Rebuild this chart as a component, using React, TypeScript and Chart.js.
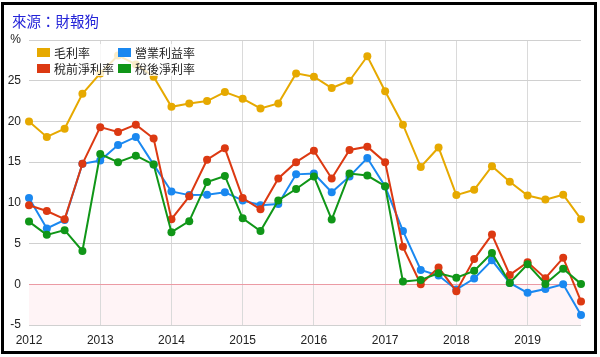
import React, { useEffect, useRef } from "react";
import Chart from "chart.js/auto";

const quarters = [
  "2012Q1", "2012Q2", "2012Q3", "2012Q4",
  "2013Q1", "2013Q2", "2013Q3", "2013Q4",
  "2014Q1", "2014Q2", "2014Q3", "2014Q4",
  "2015Q1", "2015Q2", "2015Q3", "2015Q4",
  "2016Q1", "2016Q2", "2016Q3", "2016Q4",
  "2017Q1", "2017Q2", "2017Q3", "2017Q4",
  "2018Q1", "2018Q2", "2018Q3", "2018Q4",
  "2019Q1", "2019Q2", "2019Q3", "2019Q4",
];

const grossMargin = [20.0, 18.1, 19.1, 23.4, 25.9, 28.1, 27.0, 25.5, 21.8, 22.2, 22.5, 23.6, 22.8, 21.6, 22.2, 25.9, 25.5, 24.1, 25.0, 28.0, 23.7, 19.6, 14.4, 16.8, 10.95, 11.6, 14.5, 12.6, 10.9, 10.4, 11.0, 8.0];
const operatingMargin = [10.6, 6.85, 7.9, 14.8, 15.2, 17.1, 18.1, 14.7, 11.4, 10.95, 11.0, 11.3, 10.3, 9.7, 9.85, 13.5, 13.6, 11.3, 13.25, 15.5, 12.0, 6.55, 1.75, 1.07, -0.65, 0.7, 2.95, 0.17, -1.05, -0.57, 0.0, -3.77];
const pretaxMargin = [9.7, 9.0, 8.0, 14.8, 19.3, 18.7, 19.6, 17.9, 8.0, 10.8, 15.3, 16.7, 10.6, 9.2, 13.0, 15.0, 16.4, 13.0, 16.5, 16.9, 15.0, 4.6, 0.0, 2.05, -0.85, 3.1, 6.1, 1.15, 2.7, 0.75, 3.25, -2.1];
const netMargin = [7.7, 6.07, 6.65, 4.1, 16.0, 15.0, 15.8, 14.7, 6.4, 7.75, 12.55, 13.3, 8.1, 6.55, 10.3, 11.7, 13.25, 7.95, 13.6, 13.35, 12.05, 0.33, 0.54, 1.35, 0.8, 1.65, 3.85, 0.17, 2.46, 0.05, 1.9, 0.05];

const seriesNames = ["毛利率", "營業利益率", "稅前淨利率", "稅後淨利率"];
const seriesColors = ["#e6a900", "#1a88f0", "#dc3912", "#109618"];

const yMin = -5;
const yMax = 30;
const yStep = 5;

const negativeZone = {
  id: "negativeZone",
  beforeDraw(chart: any) {
    const { ctx, chartArea, scales } = chart;
    const y0 = scales.y.getPixelForValue(0);
    ctx.save();
    ctx.fillStyle = "#fff4f6";
    ctx.fillRect(chartArea.left, y0, chartArea.right - chartArea.left, chartArea.bottom - y0);
    ctx.restore();
  },
};

export default function App() {
  const ref = useRef<HTMLCanvasElement | null>(null);

  useEffect(() => {
    if (!ref.current) return;
    const seriesData = [grossMargin, operatingMargin, pretaxMargin, netMargin];
    const chart = new Chart(ref.current, {
      type: "line",
      data: {
        labels: quarters,
        datasets: seriesData.map((d, i) => ({
          label: seriesNames[i],
          data: d,
          borderColor: seriesColors[i],
          backgroundColor: seriesColors[i],
          pointBackgroundColor: seriesColors[i],
          pointBorderWidth: 0,
          pointRadius: 4,
          borderWidth: 2,
          tension: 0,
          order: 3 - i,
        })),
      },
      options: {
        responsive: false,
        animation: false,
        layout: { padding: { left: 0, right: 19, top: 40, bottom: 0 } },
        plugins: {
          legend: { display: false },
          tooltip: { enabled: false },
        },
        scales: {
          x: {
            type: "category",
            offset: false,
            border: { display: false },
            grid: {
              drawTicks: false,
              color: (c: any) => {
                const lab = quarters[c.index];
                if (c.index === 0) return "rgba(0,0,0,0)";
                return lab && lab.endsWith("Q1") ? "#dadada" : "rgba(0,0,0,0)";
              },
            },
            ticks: {
              autoSkip: false,
              maxRotation: 0,
              padding: 8,
              color: "#222",
              font: { family: "'Liberation Sans', Arial", size: 12 },
              callback: (_v: any, i: number) => (quarters[i].endsWith("Q1") ? quarters[i].slice(0, 4) : ""),
            },
            afterFit: (s: any) => {
              s.height = 32;
            },
          },
          y: {
            min: yMin,
            max: yMax,
            border: { display: false },
            grid: {
              drawTicks: false,
              color: (c: any) => (c.tick && c.tick.value === 0 ? "#eb9aa4" : "#d0d0d0"),
            },
            ticks: {
              stepSize: yStep,
              padding: 8,
              color: "#222",
              font: { family: "'Liberation Sans', Arial", size: 12 },
              callback: (v: any) => (v === yMax ? "%" : String(v)),
            },
            afterFit: (s: any) => {
              s.width = 29;
            },
          },
        },
      },
      plugins: [negativeZone],
    });
    return () => chart.destroy();
  }, []);

  const legendRows = [
    [0, 1],
    [2, 3],
  ];
  const colX = [37, 118];
  const textX = [54, 135];
  const rowY = [52.5, 68.5];

  return (
    <div style={{ position: "fixed", left: 0, top: 0, width: 600, height: 357, background: "#fff", overflow: "hidden" }}>
      <canvas ref={ref} width={600} height={357} style={{ position: "absolute", left: 0, top: 0, width: 600, height: 357 }} />
      <div
        style={{
          position: "absolute",
          left: 12,
          top: 11,
          fontFamily: "'Noto Sans CJK TC', 'Noto Sans CJK SC', sans-serif",
          fontSize: 14.5,
          lineHeight: "20px",
          color: "#2323d8",
          whiteSpace: "nowrap",
        }}
      >
        來源：財報狗
      </div>
      <div
        style={{
          position: "absolute",
          left: 33,
          top: 44,
          width: 165,
          height: 32,
          background: "rgba(255,255,255,0.78)",
        }}
      />
      {legendRows.map((row, r) =>
        row.map((si, c) => (
          <React.Fragment key={si}>
            <div
              style={{
                position: "absolute",
                left: colX[c],
                top: rowY[r] - 4.5,
                width: 13,
                height: 9,
                background: seriesColors[si],
              }}
            />
            <div
              style={{
                position: "absolute",
                left: textX[c],
                top: rowY[r] - 9,
                height: 18,
                lineHeight: "18px",
                fontFamily: "'Noto Sans CJK TC', 'Noto Sans CJK SC', sans-serif",
                fontSize: 12,
                color: "#222",
                whiteSpace: "nowrap",
              }}
            >
              {seriesNames[si]}
            </div>
          </React.Fragment>
        ))
      )}
      <div
        style={{
          position: "absolute",
          left: 1,
          top: 2,
          width: 596,
          height: 352,
          boxSizing: "border-box",
          border: "3px solid #000",
          pointerEvents: "none",
        }}
      />
    </div>
  );
}
